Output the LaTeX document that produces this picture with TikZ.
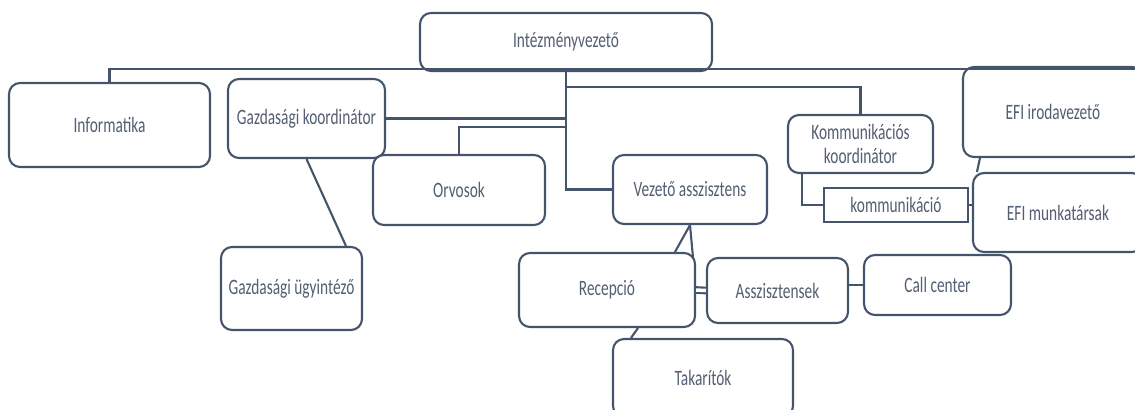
\documentclass[tikz,border=0pt]{standalone}
\usepackage{fontspec}
\setmainfont[FakeStretch=0.7]{Carlito}
\usetikzlibrary{positioning}
\definecolor{boxColor}{HTML}{44546A}
\definecolor{labelColor}{HTML}{535F72}

\begin{document}
\begin{tikzpicture}[x=0.02cm,y=-0.02cm]

  \tikzstyle{roundNode} = [draw=boxColor, line width=1.2pt, rounded corners=0.22cm, fill=white, text=labelColor, inner sep=0pt, align=center, font=\fontsize{12.5}{14}\selectfont];
  \tikzstyle{plainNode} = [roundNode, sharp corners];
  \tikzstyle{normalEdge} = [line width=1.2pt, boxColor];

  \useasboundingbox (0,0) rectangle (1135,409);

  \node[roundNode, minimum width=5.84cm, minimum height=1.16cm] (chief) at (566,42) {Intézményvezető};
  \node[roundNode, minimum width=4.02cm, minimum height=1.68cm] (info) at (109.5,125) {Informatika};
  \node[roundNode, minimum width=3.14cm, minimum height=1.58cm] (gk) at (306.5,118.5) {Gazdasági koordinátor};
  \node[roundNode, minimum width=3.44cm, minimum height=1.40cm] (orv) at (459,190) {Orvosok};
  \node[roundNode, minimum width=3.08cm, minimum height=1.38cm] (va) at (690,189.5) {Vezető asszisztens};
  \node[roundNode, minimum width=2.82cm, minimum height=1.66cm] (gu) at (291.5,288.5) {Gazdasági ügyintéző};
  \node[roundNode, minimum width=2.90cm, minimum height=1.16cm] (kk) at (860.5,144) {Kommunikációs\\koordinátor};
  \node[plainNode, minimum width=2.88cm, minimum height=0.68cm] (komm) at (896,205) {kommunikáció};
  \node[roundNode, minimum width=3.60cm, minimum height=1.80cm] (efiI) at (1053,112) {EFI irodavezető};
  \node[roundNode, minimum width=3.40cm, minimum height=1.58cm] (efiM) at (1058,212.5) {EFI munkatársak};
  \node[roundNode, minimum width=3.52cm, minimum height=1.48cm] (rec) at (607,290) {Recepció};
  \node[roundNode, minimum width=2.82cm, minimum height=1.30cm] (assz) at (777.5,290.5) {Asszisztensek};
  \node[roundNode, minimum width=2.94cm, minimum height=1.20cm] (call) at (937.5,285) {Call center};
  \node[roundNode, minimum width=3.60cm, minimum height=1.56cm] (tak) at (703,378) {Takarítók};

  \coordinate (topEnd) at (1140,69);
  \coordinate (kkJoin) at (566,87);
  \coordinate (orvJoin) at (566,127);

  \draw[normalEdge] (info.north) |- (topEnd);
  \draw[normalEdge] (chief.south) |- (va.west);
  \draw[normalEdge] (kkJoin) -| (kk.north);
  \draw[normalEdge] (gk.east) -- (gk.east -| chief.south);
  \draw[normalEdge] (orvJoin) -| (orv.north);
  \draw[normalEdge] (gk.south) -- (gu.38.6);
  \draw[normalEdge] ([xshift=0.3cm]kk.south west) |- (komm.west);
  \draw[normalEdge] (komm.east) -- (komm.east -| efiM.west);
  \draw[normalEdge] ([xshift=0.36cm]efiI.south west) -- ([xshift=0.1cm]efiM.north west);
  \draw[normalEdge] (va.south) -- ([xshift=1.36cm]rec.north);
  \draw[normalEdge] (va.south) -- ([xshift=-0.06cm,yshift=-0.12cm]rec.north east);
  \draw[normalEdge, double=white, double distance=0.07cm, line width=1.2pt] (rec.east) -- (assz.west);
  \draw[normalEdge] (assz.east |- call.west) -- (call.west);
  \draw[normalEdge] ([xshift=0.62cm]rec.south) -- ([xshift=0.38cm]tak.north west);
\end{tikzpicture}
\end{document}
